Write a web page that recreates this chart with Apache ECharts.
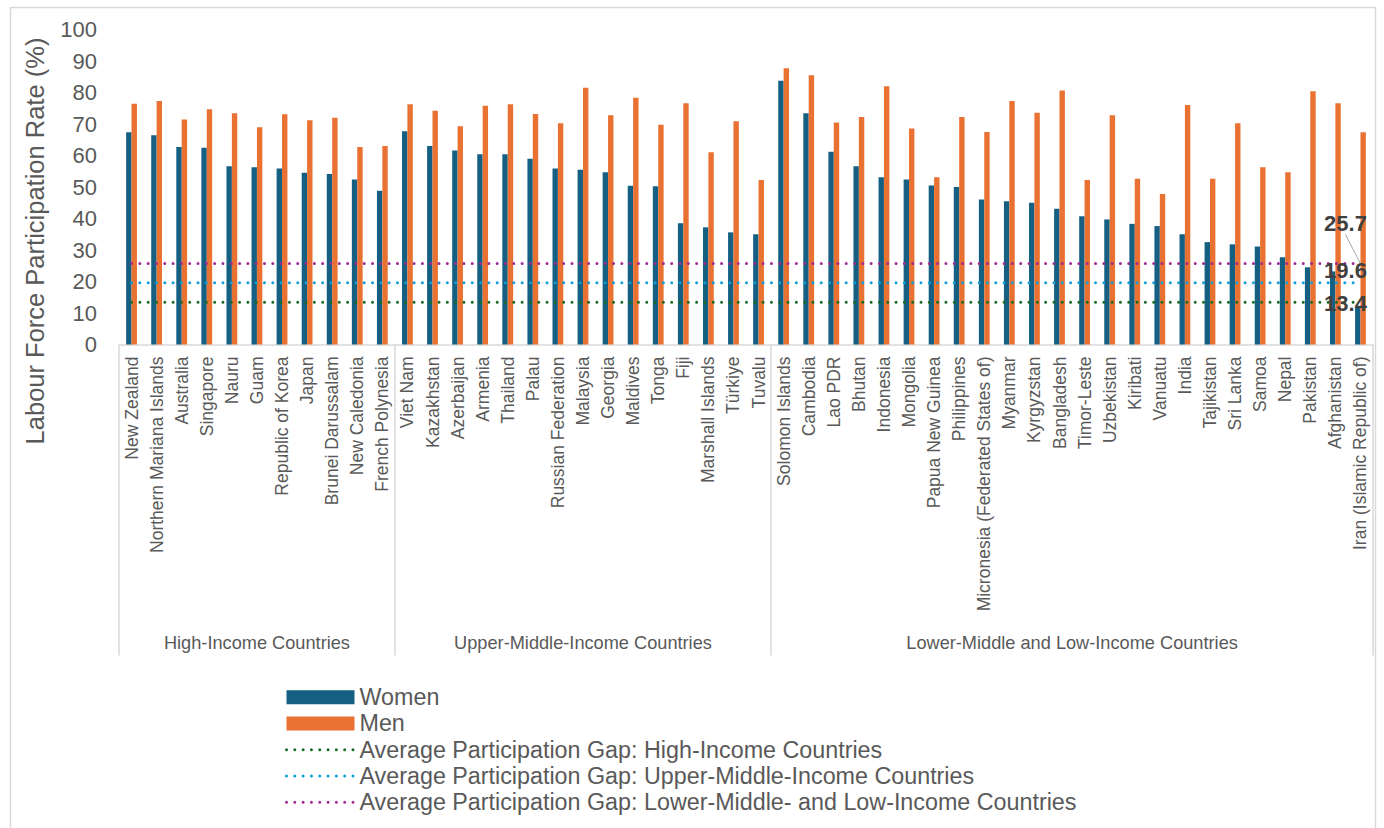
<!DOCTYPE html>
<html><head><meta charset="utf-8">
<script src="https://cdn.jsdelivr.net/npm/echarts@6/dist/echarts.min.js"></script>
<style>html,body{margin:0;padding:0;background:#fff;} #chart{width:1384px;height:828px;}</style>
</head><body><div id="chart"></div>
<script>
const categories = [
  'New Zealand','Northern Mariana Islands','Australia','Singapore','Nauru','Guam','Republic of Korea','Japan','Brunei Darussalam','New Caledonia','French Polynesia',
  'Viet Nam','Kazakhstan','Azerbaijan','Armenia','Thailand','Palau','Russian Federation','Malaysia','Georgia','Maldives','Tonga','Fiji','Marshall Islands','Türkiye','Tuvalu',
  'Solomon Islands','Cambodia','Lao PDR','Bhutan','Indonesia','Mongolia','Papua New Guinea','Philippines','Micronesia (Federated States of)','Myanmar','Kyrgyzstan','Bangladesh','Timor-Leste','Uzbekistan','Kiribati','Vanuatu','India','Tajikistan','Sri Lanka','Samoa','Nepal','Pakistan','Afghanistan','Iran (Islamic Republic of)'
];
const women = [
  67.4,66.4,62.7,62.5,56.6,56.3,55.9,54.5,54.1,52.4,48.8,
  67.7,63.0,61.6,60.4,60.4,59.0,55.9,55.5,54.7,50.4,50.2,38.5,37.2,35.6,35.0,
  83.7,73.4,61.2,56.6,53.1,52.4,50.5,50.0,46.0,45.5,45.0,43.1,40.7,39.7,38.3,37.6,35.0,32.5,31.8,31.1,27.7,24.5,23.2,12.0
];
const men = [
  76.4,77.3,71.4,74.7,73.4,69.0,73.1,71.2,72.0,62.7,63.0,
  76.3,74.2,69.3,75.8,76.3,73.2,70.2,81.5,72.8,78.3,69.8,76.6,61.0,70.9,52.2,
  87.7,85.5,70.5,72.2,82.0,68.6,53.1,72.2,67.5,77.3,73.6,80.6,52.2,72.8,52.6,47.8,76.0,52.6,70.2,56.3,54.7,80.4,76.6,67.4
];
const groupNames = ['High-Income Countries','Upper-Middle-Income Countries','Lower-Middle and Low-Income Countries'];
const groupSizes = [11, 15, 24];
const gapNames = [
  'Average Participation Gap: High-Income Countries',
  'Average Participation Gap: Upper-Middle-Income Countries',
  'Average Participation Gap: Lower-Middle- and Low-Income Countries'
];
const gapValues = [13.4, 19.6, 25.7];
const yMin = 0, yMax = 100, yStep = 10;

const FONT = '"Liberation Sans", Arial, sans-serif';
const TEXT = '#595959';
const gapColors = ['#196B24', '#0F9ED5', '#A02B93'];
const gridLeft = 119, gridRight = 11;
const bandW = (1384 - gridLeft - gridRight) / categories.length;

const groupStarts = [];
let acc = 0;
groupSizes.forEach(s => { groupStarts.push(acc); acc += s; });
const groupLabelAt = {};
groupSizes.forEach((s, g) => {
  const c = groupStarts[g] + (s - 1) / 2;
  const idx = Math.floor(c);
  groupLabelAt[idx] = { name: groupNames[g], half: c !== idx };
});

const labelStyles = [
  { offset: [-15, 1] },
  { offset: [-15, -12.5] },
  { offset: [0, 0], layout: { dx: -15, dy: -40 } }
];

const gapSeries = gapValues.map((v, k) => {
  const last = categories.length - 1;
  const s = {
    name: gapNames[k],
    type: 'line',
    xAxisIndex: 0,
    symbol: 'none',
    showSymbol: true,
    silent: true,
    z: 5,
    itemStyle: { color: gapColors[k] },
    lineStyle: { color: gapColors[k], width: 3, type: [0.01, 8.3], cap: 'round' },
    data: categories.map((c, i) => i === last ? {
      value: v, symbol: 'circle', symbolSize: 1,
      itemStyle: { color: 'rgba(0,0,0,0)' },
      label: {
        show: true, position: 'inside', offset: labelStyles[k].offset,
        formatter: String(v), color: '#404040', fontFamily: FONT, fontWeight: 'bold', fontSize: 22
      },
      labelLine: { show: !!labelStyles[k].layout, lineStyle: { color: '#A6A6A6', width: 1 } }
    } : v)
  };
  if (labelStyles[k].layout) {
    s.labelLayout = labelStyles[k].layout;
    s.labelLine = { show: true, lineStyle: { color: '#A6A6A6', width: 1 } };
  }
  return s;
});

const chart = echarts.init(document.getElementById('chart'), null, { renderer: 'svg' });
chart.setOption({
  animation: false,
  backgroundColor: '#fff',
  textStyle: { fontFamily: FONT },
  grid: { left: gridLeft, right: gridRight, top: 29.5, height: 315 },
  graphic: [
    { type: 'rect', silent: true, shape: { x: 10.5, y: 7.5, width: 1365, height: 840 },
      style: { fill: 'none', stroke: '#D9D9D9', lineWidth: 1.5 } },
    { type: 'text', x: 35, y: 241, rotation: Math.PI / 2,
      style: { text: 'Labour Force Participation Rate (%)', fill: TEXT, font: '25.5px ' + FONT, align: 'center', verticalAlign: 'middle' } }
  ],
  legend: {
    orient: 'vertical', left: 285, top: 684, padding: 0, itemWidth: 68, itemHeight: 14, itemGap: 0,
    textStyle: { color: TEXT, fontSize: 23.3, fontFamily: FONT, lineHeight: 26.3 },
    lineStyle: { width: 3 },
    data: [{ name: 'Women', icon: 'rect' }, { name: 'Men', icon: 'rect' }]
      .concat(gapNames.map(n => ({ name: n, itemStyle: { opacity: 0 } })))
  },
  xAxis: [
    {
      type: 'category', data: categories, position: 'bottom',
      axisLine: { show: true, lineStyle: { color: '#D9D9D9', width: 1.5 } },
      axisTick: { show: false },
      axisLabel: { interval: 0, rotate: 90, margin: 12, fontSize: 17.5, color: TEXT, fontFamily: FONT }
    },
    {
      type: 'category', data: categories, position: 'bottom',
      axisLine: { show: false },
      axisTick: { show: true, interval: (i) => groupStarts.includes(i), length: 311, lineStyle: { color: '#D9D9D9', width: 1.5 } },
      axisLabel: {
        interval: (i) => !!groupLabelAt[i], margin: 289, fontSize: 18.2, color: TEXT, fontFamily: FONT,
        formatter: (val, i) => { const g = groupLabelAt[i]; if (!g) return ''; return g.half ? '{h|' + g.name + '}' : '{n|' + g.name + '}'; },
        rich: { n: { fontSize: 18.2, color: TEXT, fontFamily: FONT }, h: { fontSize: 18.2, color: TEXT, fontFamily: FONT, padding: [0, 0, 0, bandW] } }
      }
    }
  ],
  yAxis: {
    type: 'value', min: yMin, max: yMax, interval: yStep,
    axisLine: { show: false }, axisTick: { show: false }, splitLine: { show: false },
    axisLabel: { fontSize: 22, color: TEXT, margin: 22, fontFamily: FONT }
  },
  series: [
    { name: 'Women', type: 'bar', data: women, barWidth: 5.4, barGap: '0%', itemStyle: { color: '#156082' } },
    { name: 'Men', type: 'bar', data: men, barWidth: 5.4, barGap: '0%', itemStyle: { color: '#E97132' } }
  ].concat(gapSeries)
});
</script>
</body></html>
